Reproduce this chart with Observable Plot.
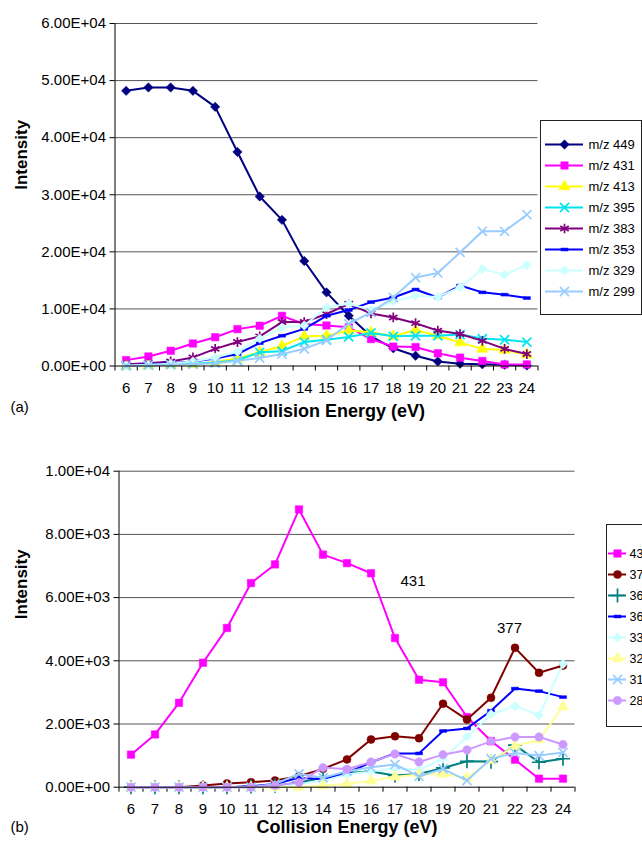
<!DOCTYPE html>
<html><head><meta charset="utf-8">
<script src="https://cdn.jsdelivr.net/npm/d3@7"></script>
<script src="https://cdn.jsdelivr.net/npm/@observablehq/plot@0.6"></script>
<style>
body{margin:0;background:#fff;font-family:"Liberation Sans",Arial,sans-serif;}
#wrap{position:relative;width:642px;height:844px;overflow:hidden;background:#fff;}
#wrap > *{position:absolute;}
</style></head><body><div id="wrap"></div>
<script>
// ---------- data ----------
const energies = [6,7,8,9,10,11,12,13,14,15,16,17,18,19,20,21,22,23,24];
const yTicksA = [0,10000,20000,30000,40000,50000,60000];
const yTicksB = [0,2000,4000,6000,8000,10000];

// panel (a)
const namesA = ["m/z 449","m/z 431","m/z 413","m/z 395","m/z 383","m/z 353","m/z 329","m/z 299"];
const a449 = [48200,48800,48800,48200,45400,37500,29700,25600,18400,12900,8800,5200,3100,1800,800,400,300,200,100];
const a431 = [1030,1670,2670,3940,5040,6460,7050,8790,7360,7090,6770,4720,3400,3320,2220,1460,870,270,270];
const a413 = [0,100,200,300,700,1300,2400,3500,5200,5300,6200,5900,5200,6300,5300,4100,3000,2800,2000];
const a395 = [100,200,300,400,600,1000,2400,2600,4200,4600,5100,5800,5200,5300,5300,5500,4800,4600,4200];
const a383 = [300,500,800,1500,3000,4200,5200,7700,7700,9100,10900,9200,8500,7500,6200,5600,4400,3000,2100];
const a353 = [100,300,500,800,1300,2100,4000,5300,6500,8800,9800,11200,12000,13400,12000,14100,12900,12500,11900];
const a329 = [100,200,400,800,1500,2500,4800,6700,7100,10300,10900,9800,11300,12300,12100,13800,17000,16000,17700];
const a299 = [0,100,200,300,500,900,1400,2100,3000,4500,7400,9400,12000,15500,16300,19900,23600,23600,26500];

// panel (b)
const namesB = ["431","377","369","363","331","325","315","287"];
const b431 = [1030,1670,2670,3940,5040,6460,7050,8790,7360,7090,6770,4720,3400,3320,2220,1460,870,270,270];
const b377 = [0,0,0,50,120,160,210,350,580,880,1510,1610,1550,2640,2140,2830,4410,3620,3850];
const b369 = [0,0,0,0,0,20,50,150,300,450,500,370,420,610,820,810,1330,790,900];
const b363 = [0,0,0,0,0,30,100,300,250,450,790,1070,1070,1780,1860,2420,3120,3040,2850];
const b331 = [0,0,0,0,0,0,0,100,200,400,500,600,550,900,1600,2310,2570,2280,3900];
const b325 = [0,0,0,0,0,0,0,0,50,100,200,330,400,420,300,850,1300,1500,2550];
const b315 = [0,0,0,0,0,0,100,420,300,500,630,720,340,580,210,900,1080,1000,1100];
const b287 = [0,0,0,0,0,0,50,150,620,570,800,1050,800,1030,1180,1450,1590,1590,1350];
const annotationsB = [{label:"431", x:17.75, y:6520},{label:"377", x:21.77, y:5030}];

// ---------- styles ----------
const dash = {draw(ctx, size){ const s=Math.sqrt(size); const w=s*0.5, h=s*0.2; ctx.moveTo(-w,-h); ctx.lineTo(w,-h); ctx.lineTo(w,h); ctx.lineTo(-w,h); ctx.closePath(); }};
const diam = {draw(ctx, size){ const s=Math.sqrt(size)*0.78; ctx.moveTo(0,-s); ctx.lineTo(s,0); ctx.lineTo(0,s); ctx.lineTo(-s,0); ctx.closePath(); }};
const styleA = [
  {c:"#000080", sym:diam, r:3.4, fill:true},
  {c:"#ff00ff", sym:"square", r:4.2, fill:true},
  {c:"#ffff00", sym:"triangle", r:4.2, fill:true},
  {c:"#00e5ee", sym:"times", r:4.2, fill:false},
  {c:"#800080", sym:"asterisk", r:4.6, fill:false},
  {c:"#0000ff", sym:dash, r:4, fill:true},
  {c:"#ccffff", sym:diam, r:3.4, fill:true},
  {c:"#99ccff", sym:"times", r:4.2, fill:false}
];
const styleB = [
  {c:"#ff00ff", sym:"square", r:4.2, fill:true},
  {c:"#800000", sym:"circle", r:4, fill:true},
  {c:"#008080", sym:"plus", r:4.6, fill:false},
  {c:"#0000ff", sym:dash, r:4, fill:true},
  {c:"#ccffff", sym:diam, r:3.4, fill:true},
  {c:"#ffff99", sym:"triangle", r:4.2, fill:true},
  {c:"#99ccff", sym:"times", r:4.2, fill:false},
  {c:"#cc99ff", sym:"circle", r:4.2, fill:true}
];
const valsA = [a449,a431,a413,a395,a383,a353,a329,a299];
const valsB = [b431,b377,b369,b363,b331,b325,b315,b287];
const FONT = "Liberation Sans, Arial, sans-serif";

const fmtE = d => {
  if (d === 0) return "0.00E+00";
  const e = Math.floor(Math.log10(d) + 1e-9);
  const m = d / Math.pow(10, e);
  return m.toFixed(2) + "E+" + String(e).padStart(2, "0");
};
const bounds = energies.map(e => e - 0.5).concat([energies[energies.length-1] + 0.5]);

function dotOpts(st, extra){
  const o = Object.assign({x:"x", y:"y", r:st.r, symbol:st.sym}, extra||{});
  if (st.fill) { o.fill = st.c; o.stroke = st.c; o.strokeWidth = 0.5; }
  else { o.fill = "none"; o.stroke = st.c; o.strokeWidth = 1.7; }
  return o;
}
function seriesMarks(names, vals, styles){
  const m = [];
  names.forEach((n,k) => {
    const data = energies.map((e,i) => ({x:e, y:vals[k][i], s:n}));
    m.push(Plot.line(data, {x:"x", y:"y", stroke:styles[k].c, strokeWidth:2}));
    m.push(Plot.dot(data, dotOpts(styles[k])));
  });
  return m;
}

function panel(opts){
  const {vals, names, styles, ticks, height, mt, mb, ml, mr, tag, tagDx, tagDy, titleDy, titleDx, intDx, intDy, extra} = opts;
  return Plot.plot({
    width:642, height, marginTop:mt, marginBottom:mb, marginLeft:ml, marginRight:mr,
    style:{fontFamily:FONT, color:"#000", background:"transparent", overflow:"visible"},
    x:{type:"linear", domain:[bounds[0], bounds[bounds.length-1]], axis:null},
    y:{domain:[0, ticks[ticks.length-1]], axis:null},
    marks:[
      Plot.ruleY(ticks.slice(1), {stroke:"#555", strokeWidth:1}),
      Plot.axisY({ticks, tickFormat:fmtE, tickSize:5, tickPadding:4, fontSize:15, label:null}),
      Plot.axisX({ticks:bounds, tickSize:5, tickFormat:() => "", label:null}),
      Plot.axisX({ticks:energies, tickSize:0, tickPadding:16, fontSize:15, tickFormat:d => String(d), label:null}),
      ...seriesMarks(names, vals, styles),
      Plot.ruleY([0], {stroke:"#000", strokeWidth:1}),
      Plot.ruleX([bounds[0]], {stroke:"#000", strokeWidth:1}),
      ...(extra || []),
      Plot.text(["Collision Energy (eV)"], {frameAnchor:"bottom", dx:titleDx, dy:titleDy, fontWeight:"bold", fontSize:18}),
      Plot.text(["Intensity"], {frameAnchor:"left", dx:intDx, dy:intDy, rotate:-90, fontWeight:"bold", fontSize:17}),
      Plot.text([tag], {frameAnchor:"bottom-left", dx:tagDx, dy:tagDy, textAnchor:"start", fontSize:15})
    ]
  });
}

function legend(names, styles, o){
  const rows = names.map((n,k) => ({n, k}));
  return Plot.plot({
    width:o.w, height:o.h, marginTop:o.mt, marginBottom:o.mb, marginLeft:o.ml, marginRight:o.mr,
    style:{fontFamily:FONT, color:"#000", background:"#fff"},
    x:{domain:[0, o.w - o.ml - o.mr], axis:null},
    y:{type:"point", domain:names, range:o.yr, axis:null},
    marks:[
      Plot.frame({stroke:"#222", strokeWidth:1}),
      ...rows.map(r => Plot.ruleY([r.n], {x1:o.l1, x2:o.l2, stroke:styles[r.k].c, strokeWidth:2})),
      ...rows.map(r => Plot.dot([{x:o.mx, y:r.n}], dotOpts(styles[r.k]))),
      Plot.text(names, {x:o.tx, y:d => d, text:d => d, textAnchor:"start", fontSize:o.fs})
    ]
  });
}

const wrap = document.getElementById("wrap");

const svgA = panel({vals:valsA, names:namesA, styles:styleA, ticks:yTicksA,
  height:425, mt:23, mb:59.5, ml:114.5, mr:104.5, tag:"(a)", tagDx:-104.5, tagDy:46,
  titleDy:51, titleDx:8, intDx:-93, intDy:-5});
svgA.style.left = "0px"; svgA.style.top = "0px";
wrap.appendChild(svgA);

const svgB = panel({vals:valsB, names:namesB, styles:styleB, ticks:yTicksB,
  height:419, mt:45.7, mb:57.3, ml:118.5, mr:67.5, tag:"(b)", tagDx:-108.5, tagDy:44.5,
  titleDy:45.5, titleDx:0, intDx:-97, intDy:-10,
  extra:[Plot.text(annotationsB, {x:"x", y:"y", text:"label", fontSize:15})]});
svgB.style.left = "0px"; svgB.style.top = "425px";
wrap.appendChild(svgB);

const legA = legend(namesA, styleA, {w:104, h:198, mt:2, mb:2, ml:2, mr:1, yr:[14,184], l1:5, l2:43, mx:24, tx:48, fs:13});
legA.style.left = "538px"; legA.style.top = "118px";
wrap.appendChild(legA);

const legB = legend(namesB, styleB, {w:50, h:206, mt:2, mb:2, ml:2, mr:0, yr:[18,190], l1:2, l2:20, mx:11, tx:23, fs:12.5});
legB.style.left = "604px"; legB.style.top = "522px";
wrap.appendChild(legB);
</script></body></html>
